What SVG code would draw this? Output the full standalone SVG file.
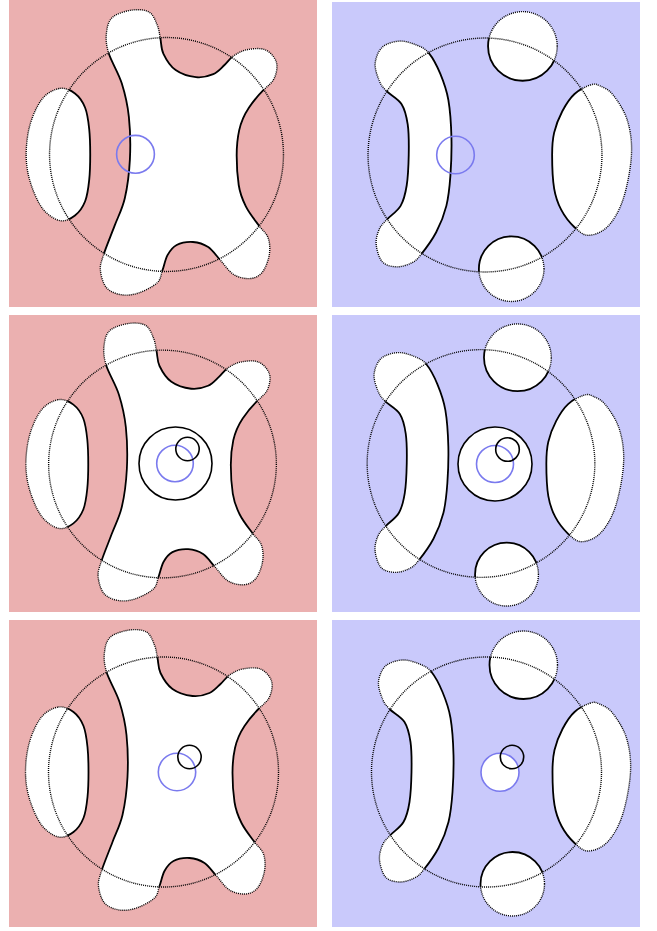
<svg xmlns="http://www.w3.org/2000/svg" xmlns:xlink="http://www.w3.org/1999/xlink" width="657" height="931" viewBox="0 0 657 931">
<style>
.pink{fill:#ebb0b0}
.blue{fill:#c9c9fb}
.shape{fill:#fff;stroke:none}
.dot{fill:none;stroke:#000;stroke-width:1.4;stroke-dasharray:1 1}
.solid{fill:none;stroke:#000;stroke-width:1.8}
.ring{fill:none;stroke:#000;stroke-width:1.6}
.ringw{fill:#fff;stroke:#000;stroke-width:1.6}
.bc{fill:none;stroke:#7a7aee;stroke-width:1.6}
.bcw{fill:#fff;stroke:#7a7aee;stroke-width:1.6}
</style>
<defs>
<clipPath id="inC"><circle cx="0" cy="0" r="115"/></clipPath>
<clipPath id="outC"><path clip-rule="evenodd" d="M-220,-220H220V220H-220Z M115,0A115,115 0 1 0 -115,0A115,115 0 1 0 115,0Z"/></clipPath>
<path id="blobL" d="M-6,-114 C-5,-109.3 -5.5,-104.2 -3,-99 S3.7,-86.8 9,-83 S22.8,-76.7 29,-76 S41.3,-77 46,-79 S53.7,-85 57,-88 S62.3,-94.5 66,-97 S73.8,-102 79,-103 S92.2,-105 97,-103 S106.5,-95.7 108,-91 S108.2,-79.7 106,-75 S99.5,-67.5 95,-63 S85,-52 81,-46 S73.5,-33 71.5,-24 S69,-9 69,1 S69.5,20 71,30 S74.5,44 78,51 S87.5,65.2 91,70 S98.3,77.2 100,82 S102,93.3 101,99 S97.2,112.2 94,116 S86.7,121.7 82,122 S70.8,121 66,118 S57.2,108.5 53,104 S45.5,94 41,91 S31.2,86.3 26,86 S14.2,86.8 10,89 S3.3,94.8 1,99 S-2.3,109.5 -4,114 S-5.2,122.3 -9,126 S-21.2,134 -27,136 S-38.7,138.8 -44,138 S-55.5,135 -59,131 S-64.5,119.3 -65,114 S-64.3,106.3 -62,99 S-54.5,79.3 -51,70 S-43.5,53.8 -41,43 S-36.7,18.3 -36,5 S-35.7,-24.5 -37,-37 S-40.7,-59.5 -44,-70 S-54.5,-91.7 -57,-100 S-59.7,-114.2 -59,-120 S-57.2,-131.3 -53,-135 S-40,-141.2 -34,-142 S-21.2,-142.5 -17,-140 S-10.8,-131.3 -9,-127 S-7,-118.7 -6,-114 Z M-105,-65 C-99.7,-65.8 -94.2,-63.2 -90,-60 S-82.3,-51.8 -80,-46 S-76.8,-32.7 -76,-25 S-75,-8.3 -75,0 S-75.2,17.3 -76,25 S-77.7,40.2 -80,46 S-85.8,56.8 -90,60 S-99.7,66.2 -105,65 S-117.2,59.3 -122,53 S-131.3,35.8 -134,27 S-138,9.5 -138,0 S-136.7,-20.8 -134,-30 S-126.8,-49.2 -122,-55 S-110.3,-64.2 -105,-65 Z"/>
<path id="blobR" d="M-97,-63 C-100.7,-66.8 -102.2,-68.5 -104,-73 S-108.5,-84.5 -108,-90 S-105,-102.3 -101,-106 S-89.7,-111.7 -84,-112 S-71.8,-110 -67,-108 S-58.8,-104.7 -55,-100 S-47.2,-87.7 -44,-80 S-37.8,-64.5 -36,-54 S-33.3,-29.3 -33,-17 S-33.2,8.8 -34,20 S-35.7,40.7 -38,50 S-43.8,68 -48,76 S-59,93 -63,98 S-68,104 -72,106 S-82.2,110.2 -87,110 S-97.7,108.7 -101,105 S-106.5,93.3 -107,88 S-105.8,77.2 -104,73 S-99.5,66.8 -96,63 S-86.2,55.5 -83,50 S-78.3,38.3 -77,30 S-75.2,10 -75,0 S-74.8,-21.7 -76,-30 S-78.5,-44.5 -82,-50 S-93.3,-59.2 -97,-63 Z M104,-69 C99.8,-67.7 92.7,-64.3 88,-60 S79.3,-49.3 76,-43 S69.7,-29.2 68,-22 S66,-9.2 66,0 S66.5,24 68,33 S71.7,47.7 75,54 S83.5,66.8 88,71 S96.5,79.2 102,79 S115.3,76 121,70 S132.2,54.7 136,43 S143.3,12.8 144,0 S143,-24.2 140,-34 S130.5,-53.3 126,-59 S116.7,-66.3 113,-68 S108.2,-70.3 104,-69 Z M71,-107 A34,34 0 1 0 3,-107 A34,34 0 1 0 71,-107 Z M58,112 A32,32 0 1 0 -6,112 A32,32 0 1 0 58,112 Z"/>
<g id="setL">
<use href="#blobL" xlink:href="#blobL" class="shape"/>
<use href="#blobL" xlink:href="#blobL" class="dot" clip-path="url(#outC)"/>
<use href="#blobL" xlink:href="#blobL" class="solid" clip-path="url(#inC)"/>
<circle cx="0" cy="0" r="115" class="dot"/>
</g>
<g id="setR">
<use href="#blobR" xlink:href="#blobR" class="shape"/>
<use href="#blobR" xlink:href="#blobR" class="dot" clip-path="url(#outC)"/>
<use href="#blobR" xlink:href="#blobR" class="solid" clip-path="url(#inC)"/>
<circle cx="0" cy="0" r="115" class="dot"/>
</g>
</defs>

<g id="panel-1-left">
<rect x="9" y="0" width="308" height="307" class="pink"/>
<use href="#setL" xlink:href="#setL" transform="translate(166.5,154.5) scale(1.017)"/>
<circle cx="135.5" cy="154.3" r="18.9" class="bc"/>
</g>
<g id="panel-1-right">
<rect x="332" y="2" width="308" height="305" class="blue"/>
<use href="#setR" xlink:href="#setR" transform="translate(485,155) scale(1.017)"/>
<circle cx="455.5" cy="155" r="18.8" class="bc"/>
</g>

<g id="panel-2-left">
<rect x="9" y="315" width="308" height="297" class="pink"/>
<use href="#setL" xlink:href="#setL" transform="translate(162.5,464) scale(0.99)"/>
<circle cx="175.5" cy="463.5" r="36.5" class="ringw"/>
<circle cx="175" cy="463.5" r="18.3" class="bc"/>
<circle cx="187.5" cy="449" r="11.7" class="ring"/>
</g>
<g id="panel-2-right">
<rect x="332" y="315" width="308" height="297" class="blue"/>
<use href="#setR" xlink:href="#setR" transform="translate(481,463.5) scale(0.99)"/>
<circle cx="495" cy="464" r="37" class="ringw"/>
<circle cx="495" cy="464" r="18.5" class="bc"/>
<circle cx="507.5" cy="449.5" r="11.8" class="ring"/>
</g>

<g id="panel-3-left">
<rect x="9" y="620" width="308" height="307" class="pink"/>
<use href="#setL" xlink:href="#setL" transform="translate(163.5,772)"/>
<circle cx="177" cy="772" r="18.7" class="bc"/>
<circle cx="189.5" cy="757" r="11.7" class="ring"/>
</g>
<g id="panel-3-right">
<rect x="332" y="620" width="308" height="307" class="blue"/>
<use href="#setR" xlink:href="#setR" transform="translate(486.5,772)"/>
<circle cx="500" cy="772.3" r="19" class="bcw"/>
<circle cx="512" cy="757" r="11.7" class="ring"/>
</g>
</svg>
